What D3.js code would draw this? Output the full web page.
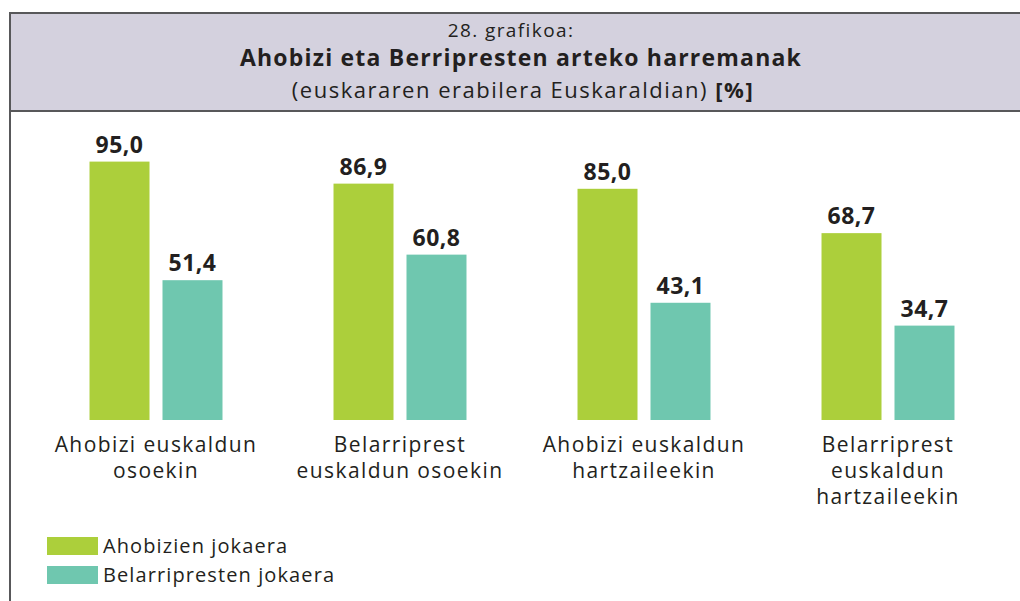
<!DOCTYPE html>
<html>
<head>
<meta charset="utf-8">
<script src="https://cdn.jsdelivr.net/npm/d3@7"></script>
<style>
  body { margin: 0; background: #fff; }
  text { font-family: "Open Sans", sans-serif; fill: #231f20; }
</style>
</head>
<body>
<script>
// data
var categories = [
  "Ahobizi euskaldun\nosoekin",
  "Belarriprest\neuskaldun osoekin",
  "Ahobizi euskaldun\nhartzaileekin",
  "Belarriprest\neuskaldun\nhartzaileekin"
];
var series = ["Ahobizien jokaera", "Belarripresten jokaera"];
var ahobiziValues = [95.0, 86.9, 85.0, 68.7];
var belarriprestValues = [51.4, 60.8, 43.1, 34.7];
var titleLines = ["28. grafikoa:", "Ahobizi eta Berripresten arteko harremanak", "(euskararen erabilera Euskaraldian) "];
var colors = ["#accf3b", "#6fc7af"];

var data = categories.map(function(c, i) {
  return { cat: c, values: [ahobiziValues[i], belarriprestValues[i]] };
});

var width = 1020, height = 601;

var svg = d3.select("body").append("svg")
    .attr("width", width)
    .attr("height", height);

// header box
svg.append("rect")
    .attr("x", 10)
    .attr("y", 13)
    .attr("width", 1020)
    .attr("height", 98)
    .attr("fill", "#d4d1de")
    .attr("stroke", "#58585a")
    .attr("stroke-width", 2);

svg.append("line")
    .attr("x1", 10).attr("x2", 10)
    .attr("y1", 13).attr("y2", height)
    .attr("stroke", "#58585a")
    .attr("stroke-width", 2);

svg.append("text")
    .attr("x", 511).attr("y", 37)
    .attr("text-anchor", "middle")
    .style("font-size", "19px")
    .style("letter-spacing", "1.4px")
    .text(titleLines[0]);

svg.append("text")
    .attr("x", 521).attr("y", 66)
    .attr("text-anchor", "middle")
    .style("font-size", "23px")
    .style("font-weight", "bold")
    .style("letter-spacing", "1.2px")
    .text(titleLines[1]);

var sub = svg.append("text")
    .attr("x", 523).attr("y", 98)
    .attr("text-anchor", "middle")
    .style("font-size", "22px")
    .style("letter-spacing", "1.5px");
sub.append("tspan").text(titleLines[2]);
sub.append("tspan").style("font-weight", "bold").text("[%]");

// scales
var x0 = d3.scaleBand()
    .domain(categories)
    .range([33, 1011])
    .paddingInner(0.455)
    .paddingOuter(0.2316);

var x1 = d3.scaleBand()
    .domain(series)
    .range([0, x0.bandwidth()])
    .paddingInner(0.178);

var y = d3.scaleLinear()
    .domain([0, 100])
    .range([420, 148]);

var fmt = function(v) { return d3.format(".1f")(v).replace(".", ","); };

var groups = svg.selectAll(".group")
    .data(data)
  .enter().append("g")
    .attr("class", "group")
    .attr("transform", function(d) { return "translate(" + x0(d.cat) + ",0)"; });

groups.selectAll("rect")
    .data(function(d) { return d.values.map(function(v, i) { return { s: series[i], v: v, i: i }; }); })
  .enter().append("rect")
    .attr("x", function(d) { return x1(d.s); })
    .attr("y", function(d) { return y(d.v); })
    .attr("width", x1.bandwidth())
    .attr("height", function(d) { return y(0) - y(d.v); })
    .attr("fill", function(d) { return colors[d.i]; });

groups.selectAll(".val")
    .data(function(d) { return d.values.map(function(v, i) { return { s: series[i], v: v }; }); })
  .enter().append("text")
    .attr("class", "val")
    .attr("x", function(d) { return x1(d.s) + x1.bandwidth() / 2; })
    .attr("y", function(d) { return y(d.v) - 9; })
    .attr("text-anchor", "middle")
    .style("font-size", "23px")
    .style("font-weight", "bold")
    .style("letter-spacing", "0.5px")
    .text(function(d) { return fmt(d.v); });

// x axis labels
var xAxis = svg.append("g")
    .attr("class", "x axis")
    .attr("transform", "translate(0,420)")
    .call(d3.axisBottom(x0).tickSize(0).tickFormat(""));
xAxis.select(".domain").remove();

xAxis.selectAll(".tick").append("text")
    .attr("text-anchor", "middle")
    .style("font-size", "21px")
    .style("letter-spacing", "1.4px")
    .selectAll("tspan")
    .data(function(d) { return d.split("\n"); })
  .enter().append("tspan")
    .attr("x", 0)
    .attr("y", function(d, i) { return 32 + i * 26; })
    .text(function(d) { return d; });

// legend
var legend = svg.selectAll(".legend")
    .data(series)
  .enter().append("g")
    .attr("class", "legend")
    .attr("transform", function(d, i) { return "translate(47," + (537 + i * 29) + ")"; });

legend.append("rect")
    .attr("width", 51)
    .attr("height", 18)
    .attr("fill", function(d, i) { return colors[i]; });

legend.append("text")
    .attr("x", 56)
    .attr("y", 16)
    .style("font-size", "20px")
    .style("letter-spacing", "1.1px")
    .text(function(d) { return d; });
</script>
</body>
</html>
